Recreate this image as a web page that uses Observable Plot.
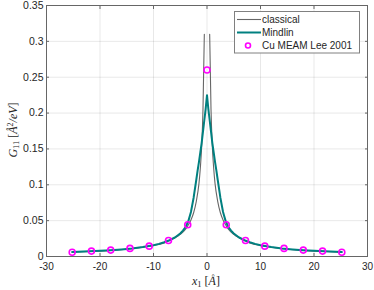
<!DOCTYPE html>
<html><head><meta charset="utf-8">
<script src="https://cdn.jsdelivr.net/npm/d3@7"></script>
<script src="https://cdn.jsdelivr.net/npm/@observablehq/plot@0.6"></script>
<style>body{margin:0;background:#fff}</style>
</head><body><div id="chart"></div>
<script>
// half-curves (x >= 0); the chart is symmetric about x = 0
const classicalX = [0.5,0.75,1,1.25,1.5,2,2.5,3,3.5,4,5,6,7,8,10,12,15,18,21,25.2];
const classicalY = [0.31,0.205,0.153,0.123,0.102,0.077,0.061,0.051,0.044,0.038,0.031,0.026,0.022,0.019,0.0153,0.0128,0.0102,0.0085,0.0073,0.0061];
const mindlinX = [0,0.25,0.5,0.75,1,1.25,1.5,1.75,2,2.5,3,3.5,4,4.5,5,6,7,8,9,10,12,14,16,18,21,25.2];
const mindlinY = [0.225,0.206,0.19,0.174,0.158,0.145,0.132,0.12,0.107,0.082,0.062,0.049,0.041,0.036,0.032,0.0265,0.0228,0.0198,0.0176,0.0157,0.0131,0.0113,0.0099,0.0088,0.0075,0.0063];
const meamX = [-25.2,-21.6,-18,-14.4,-10.8,-7.2,-3.6,0,3.6,7.2,10.8,14.4,18,21.6,25.2];
const meamY = [0.006,0.0075,0.0089,0.0113,0.0144,0.0223,0.0442,0.26,0.0442,0.0223,0.0144,0.0113,0.0089,0.0075,0.006];
const xTicks = [-30,-20,-10,0,10,20,30];
const yTicks = [0,0.05,0.1,0.15,0.2,0.25,0.3,0.35];
const seriesNames = ["classical","Mindlin","Cu MEAM Lee 2001"];

// build symmetric tables
const classical = [
  ...classicalX.map((x,i)=>({x:-x,y:classicalY[i]})).reverse(),
  {x:0,y:NaN},
  ...classicalX.map((x,i)=>({x,y:classicalY[i]}))
];
const mindlin = [
  ...mindlinX.slice(1).map((x,i)=>({x:-x,y:mindlinY[i+1]})).reverse(),
  ...mindlinX.map((x,i)=>({x,y:mindlinY[i]}))
];
const meam = meamX.map((x,i)=>({x,y:meamY[i]}));

const fmt = d => String(d);
const axisColor = "#666";
const chart = Plot.plot({
  width: 374, height: 290,
  marginLeft: 46, marginRight: 7, marginTop: 5, marginBottom: 34,
  style: {fontFamily: "'Liberation Sans', Arial, sans-serif", fontSize: "10.5px", color: "#262626", background: "#fff", overflow: "visible"},
  x: {domain: [-30, 30]},
  y: {domain: [0, 0.35]},
  marks: [
    Plot.gridX(xTicks, {stroke: "#000", strokeOpacity: 0.09}),
    Plot.gridY(yTicks, {stroke: "#000", strokeOpacity: 0.09}),
    Plot.line(classical, {x: "x", y: "y", stroke: "#666", strokeWidth: 1.1, curve: "monotone-x"}),
    Plot.line(mindlin, {x: "x", y: "y", stroke: "#008080", strokeWidth: 2}),
    Plot.dot(meam, {x: "x", y: "y", r: 3, stroke: "#ff00ff", strokeWidth: 1.6, fill: "none"}),
    Plot.frame({stroke: axisColor}),
    Plot.axisX(xTicks, {anchor: "bottom", tickSize: 0, tickPadding: 6, tickFormat: fmt, label: null, fill: "#262626", fontSize: 10}),
    Plot.axisY(yTicks, {anchor: "left", tickSize: 0, tickPadding: 3, tickFormat: fmt, label: null, fill: "#262626"}),
    Plot.axisX(xTicks, {anchor: "bottom", tickSize: -3, tickFormat: () => "", label: null, stroke: axisColor}),
    Plot.axisX(xTicks, {anchor: "top", tickSize: -3, tickFormat: () => "", label: null, stroke: axisColor}),
    Plot.axisY(yTicks, {anchor: "left", tickSize: -3, tickFormat: () => "", label: null, stroke: axisColor}),
    Plot.axisY(yTicks, {anchor: "right", tickSize: -3, tickFormat: () => "", label: null, stroke: axisColor})
  ]
});
document.getElementById("chart").appendChild(chart);

const svg = d3.select(chart);
const serif = "'Liberation Serif','DejaVu Serif',serif";
// x label
const xl = svg.append("text").attr("x", 206).attr("y", 285).attr("text-anchor", "middle")
  .attr("font-family", serif).attr("font-size", 12).attr("fill", "#262626");
xl.append("tspan").attr("font-style", "italic").text("x");
xl.append("tspan").attr("font-size", 8.5).attr("dy", 2).text("1");
xl.append("tspan").attr("dy", -2).text(" [");
xl.append("tspan").attr("font-style", "italic").text("Å");
xl.append("tspan").text("]");
// y label
const yl = svg.append("text").attr("transform", "translate(17,130) rotate(-90)").attr("text-anchor", "middle")
  .attr("font-family", serif).attr("font-size", 12).attr("fill", "#262626");
yl.append("tspan").attr("font-style", "italic").text("G");
yl.append("tspan").attr("font-size", 8.5).attr("dy", 2).text("11");
yl.append("tspan").attr("dy", -2).text(" [");
yl.append("tspan").attr("font-style", "italic").text("Å");
yl.append("tspan").attr("font-size", 8).attr("dy", -4).text("2");
yl.append("tspan").attr("dy", 4).attr("font-style", "italic").text("/eV");
yl.append("tspan").text("]");

// legend
const lg = svg.append("g").attr("font-family", "'Liberation Sans', Arial, sans-serif").attr("font-size", 10).attr("text-anchor", "start");
lg.append("rect").attr("x", 234.5).attr("y", 11.5).attr("width", 125).attr("height", 41.5)
  .attr("fill", "#ffffff").attr("stroke", "#808080").attr("stroke-width", 1);
const rows = [19.5, 32.5, 45.5];
lg.append("line").attr("x1", 237).attr("x2", 261).attr("y1", rows[0]).attr("y2", rows[0]).attr("stroke", "#666").attr("stroke-width", 1.1);
lg.append("line").attr("x1", 237).attr("x2", 261).attr("y1", rows[1]).attr("y2", rows[1]).attr("stroke", "#008080").attr("stroke-width", 2);
lg.append("circle").attr("cx", 248).attr("cy", rows[2]).attr("r", 2.5).attr("fill", "none").attr("stroke", "#ff00ff").attr("stroke-width", 1.6);
seriesNames.forEach((s, i) => {
  lg.append("text").attr("x", 262).attr("y", rows[i]).attr("dy", "0.35em").attr("fill", "#262626").text(s);
});
</script>
</body></html>
